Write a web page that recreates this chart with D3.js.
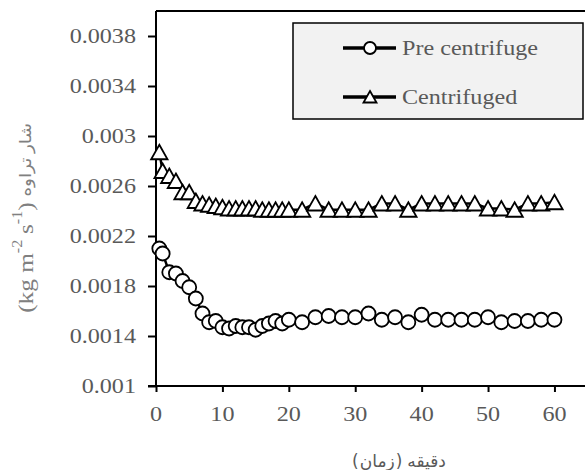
<!DOCTYPE html>
<html><head><meta charset="utf-8">
<script src="https://cdn.jsdelivr.net/npm/d3@7"></script>
<style>body{margin:0;background:#fff}svg{display:block}</style>
</head><body>
<svg id="c" width="585" height="470"></svg>
<script>
// ---- data ----
const timesPre = [0.5,1,2,3,4,5,6,7,8,9,10,11,12,13,14,15,16,17,18,19,20,22,24,26,28,30,32,34,36,38,40,42,44,46,48,50,52,54,56,58,60];
const valuesPre = [0.00210,0.00206,0.00191,0.00190,0.00184,0.00179,0.00170,0.00158,0.00151,0.00152,0.00147,0.00146,0.00148,0.00147,0.00147,0.00145,0.00148,0.00150,0.00152,0.00150,0.00153,0.00151,0.00155,0.00156,0.00155,0.00155,0.00158,0.00153,0.00155,0.00151,0.00157,0.00153,0.00153,0.00153,0.00153,0.00155,0.00151,0.00152,0.00152,0.00153,0.00153];
const timesCen = [0.5,1,2,3,4,5,6,7,8,9,10,11,12,13,14,15,16,17,18,19,20,22,24,26,28,30,32,34,36,38,40,42,44,46,48,50,52,54,56,58,60];
const valuesCen = [0.00287,0.00272,0.00268,0.00264,0.00255,0.00255,0.00248,0.00246,0.00245,0.00244,0.00243,0.00242,0.00242,0.00242,0.00242,0.00242,0.00241,0.00241,0.00241,0.00241,0.00241,0.00241,0.00246,0.00241,0.00241,0.00241,0.00241,0.00246,0.00246,0.00241,0.00246,0.00246,0.00246,0.00246,0.00246,0.00242,0.00242,0.00241,0.00246,0.00246,0.00247];
const seriesNames = ["Pre centrifuge","Centrifuged"];
const xTicks = [0,10,20,30,40,50,60];
const xTickLabels = ["0","10","20","30","40","50","60"];
const yTicks = [0.001,0.0014,0.0018,0.0022,0.0026,0.003,0.0034,0.0038];
const yTickLabels = ["0.001","0.0014","0.0018","0.0022","0.0026","0.003","0.0034","0.0038"];
// axis titles: pieces listed in visual left-to-right order
const xTitleWords = ["(", "زمان", ")", "دقیقه"];
const yTitleUnit = ["(kg m", "-2", "s", "-1", ")"];
const yTitleWords = ["تراوه", "شار"];

// ---- layout ----
const svg = d3.select("#c");
const L = 156, R = 585, T = 11, B = 386;
const x = d3.scaleLinear().domain([0, 64.6]).range([L, R]);
const y = d3.scaleLinear().domain([0.001, 0.004]).range([B, T]);
const serif = "'Liberation Serif','Times New Roman',serif";
const sans = "'DejaVu Sans','Noto Sans',sans-serif";
const grey = "#595959";
const SX = 1.15; // horizontal glyph stretch seen in the reference

// frame / axes
svg.append("line").attr("x1", L).attr("x2", R).attr("y1", T).attr("y2", T)
  .attr("stroke", "#000").attr("stroke-width", 2);
const yAxis = svg.append("g").attr("transform", `translate(${L},0)`)
  .call(d3.axisLeft(y).tickValues(yTicks).tickSize(8).tickFormat(""));
yAxis.select(".domain").attr("d", `M0,${T}V${B}`).attr("stroke-width", 2);
const xAxis = svg.append("g").attr("transform", `translate(0,${B})`)
  .call(d3.axisBottom(x).tickValues(xTicks).tickSize(6).tickFormat(""));
xAxis.select(".domain").attr("d", `M${L-8},0H${R}`).attr("stroke-width", 2);
svg.selectAll(".tick line").attr("stroke-width", 2);

// tick labels
svg.append("g").selectAll("text").data(yTicks).join("text")
  .attr("transform", d => `translate(136,${y(d)}) scale(${SX},1)`)
  .attr("text-anchor","end").attr("dy","0.35em")
  .attr("font-family", serif).attr("font-size", 21).attr("fill", grey)
  .text((d,i)=>yTickLabels[i]);
svg.append("g").selectAll("text").data(xTicks).join("text")
  .attr("transform", d => `translate(${x(d)},414) scale(${SX},1)`)
  .attr("text-anchor","middle").attr("dy","0.35em")
  .attr("font-family", serif).attr("font-size", 21).attr("fill", grey)
  .text((d,i)=>xTickLabels[i]);

// series
const triPath = "M0,-7.5L8.2,7L-8.2,7Z";
function drawSeries(ts, vs, type) {
  const pts = ts.map((t,i)=>[x(t), y(vs[i])]);
  svg.append("path").attr("d", d3.line()(pts)).attr("fill","none")
    .attr("stroke","#000").attr("stroke-width",2.5);
  const g = svg.append("g");
  pts.forEach(p => {
    if (type === "circle") {
      g.append("circle").attr("cx", p[0]).attr("cy", p[1]).attr("r", 7)
        .attr("fill","#fff").attr("stroke","#000").attr("stroke-width",1.8);
    } else {
      g.append("path").attr("d", triPath).attr("transform", `translate(${p[0]},${p[1]})`)
        .attr("fill","#fff").attr("stroke","#000").attr("stroke-width",1.8);
    }
  });
}
drawSeries(timesPre, valuesPre, "circle");
drawSeries(timesCen, valuesCen, "triangle");

// legend
const lg = svg.append("g");
lg.append("rect").attr("x", 293).attr("y", 23).attr("width", 290).attr("height", 96)
  .attr("fill", "#f2f2f2").attr("stroke", "#000").attr("stroke-width", 1.5);
[[48,"circle"],[97,"triangle"]].forEach(([ly,type],i) => {
  lg.append("line").attr("x1",343).attr("x2",396).attr("y1",ly).attr("y2",ly)
    .attr("stroke","#000").attr("stroke-width",3.5);
  if (type==="circle") lg.append("circle").attr("cx",370).attr("cy",ly).attr("r",6)
    .attr("fill","#fff").attr("stroke","#000").attr("stroke-width",1.8);
  else lg.append("path").attr("d","M0,-6L6.5,5.5L-6.5,5.5Z").attr("transform",`translate(370,${ly})`)
    .attr("fill","#fff").attr("stroke","#000").attr("stroke-width",1.8);
  lg.append("text").attr("transform",`translate(402,${ly}) scale(${SX},1)`).attr("dy","0.35em")
    .attr("font-family",serif).attr("font-size",21).attr("fill",grey).text(seriesNames[i]);
});

// place pieces of text in explicit visual order (avoids bidi reordering)
function placeRun(g, pieces) {
  const nodes = pieces.map(p => {
    const t = g.append("text").attr("font-family", p.font).attr("font-size", p.size)
      .attr("fill", p.fill).attr("y", p.dy || 0).attr("dy", "0.35em").text(p.text);
    return {t, w: t.node().getComputedTextLength(), gap: p.gap || 0};
  });
  const total = d3.sum(nodes, n => n.w + n.gap);
  let cx = -total / 2;
  nodes.forEach(n => { cx += n.gap; n.t.attr("x", cx); cx += n.w; });
}

const xt = svg.append("g").attr("transform", "translate(399,461)");
placeRun(xt, [
  {text: xTitleWords[0], font: sans, size: 17, fill: grey},
  {text: xTitleWords[1], font: sans, size: 17, fill: grey, gap: 1},
  {text: xTitleWords[2], font: sans, size: 17, fill: grey, gap: 1},
  {text: xTitleWords[3], font: sans, size: 17, fill: grey, gap: 5}
]);

const ytc = "#808080";
const yt = svg.append("g").attr("transform", `translate(25,218) rotate(-90) scale(1.15,1)`);
placeRun(yt, [
  {text: yTitleUnit[0], font: serif, size: 22, fill: ytc},
  {text: yTitleUnit[1], font: serif, size: 14, fill: ytc, dy: -8},
  {text: yTitleUnit[2], font: serif, size: 22, fill: ytc, gap: 5},
  {text: yTitleUnit[3], font: serif, size: 14, fill: ytc, dy: -8},
  {text: yTitleUnit[4], font: serif, size: 22, fill: ytc},
  {text: yTitleWords[0], font: sans, size: 16, fill: ytc, gap: 5},
  {text: yTitleWords[1], font: sans, size: 16, fill: ytc, gap: 4}
]);
</script>
</body></html>
